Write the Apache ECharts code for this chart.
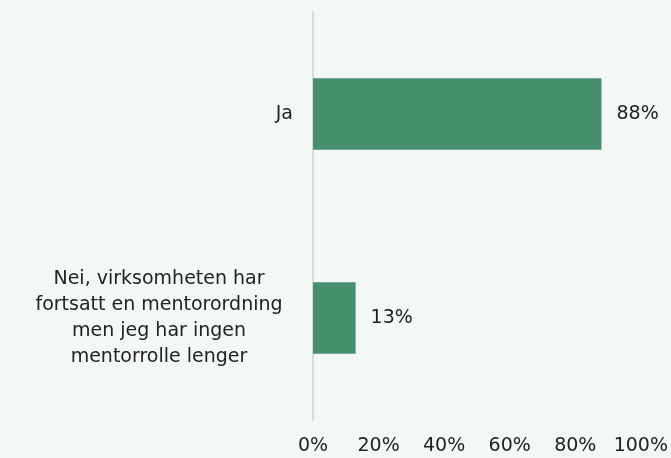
<!DOCTYPE html>
<html>
<head>
<meta charset="utf-8">
<script src="https://cdn.jsdelivr.net/npm/echarts@6/dist/echarts.min.js"></script>
<style>
  html, body { margin: 0; padding: 0; background: #f3f8f6; }
  #chart { width: 671px; height: 458px; }
</style>
</head>
<body>
<div id="chart"></div>
<script>
// Survey answers (bottom-to-top order for the category axis)
const categories = [
  'Nei, virksomheten har\nfortsatt en mentorordning\nmen jeg har ingen\nmentorrolle lenger',
  'Ja'
];
const shares = [13, 88];
const tickValues = [0, 20, 40, 60, 80, 100];

const FONT = 'DejaVu Sans';
const TEXT = '#222222';
const SIZE = 19;

const chart = echarts.init(document.getElementById('chart'), null, { renderer: 'canvas' });

chart.setOption({
  backgroundColor: '#f3f8f6',
  animation: false,
  grid: { left: 313, right: 27, top: 12, bottom: 38, containLabel: false },
  xAxis: {
    type: 'value',
    min: tickValues[0],
    max: tickValues[tickValues.length - 1],
    interval: 20,
    splitLine: { show: false },
    axisLine: { show: false },
    axisTick: { show: false },
    axisLabel: {
      formatter: v => v + '%',
      color: TEXT,
      fontFamily: FONT,
      fontSize: SIZE,
      margin: 17
    }
  },
  yAxis: {
    type: 'category',
    data: categories,
    axisLine: { show: true, lineStyle: { color: '#d9d9d9', width: 2 } },
    axisTick: { show: false },
    axisLabel: {
      margin: 20,
      color: TEXT,
      fontFamily: FONT,
      fontSize: SIZE,
      align: 'right',
      // multi-line answers are centred as a block; single-line ones hug the axis
      formatter: v => v.indexOf('\n') >= 0 ? '{c|' + v + '}' : v,
      rich: {
        c: {
          width: 268,
          align: 'center',
          color: TEXT,
          fontFamily: FONT,
          fontSize: SIZE,
          lineHeight: 26
        }
      }
    }
  },
  series: [{
    type: 'bar',
    data: shares,
    barWidth: '35%',
    itemStyle: { color: '#468f6e' },
    label: {
      show: true,
      position: 'right',
      distance: 15,
      formatter: p => p.value + '%',
      color: TEXT,
      fontFamily: FONT,
      fontSize: SIZE
    }
  }]
});
</script>
</body>
</html>
